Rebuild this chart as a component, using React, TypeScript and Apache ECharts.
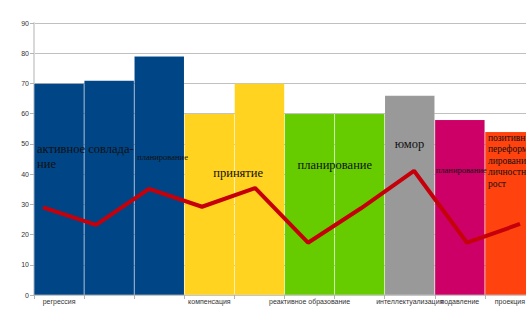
import React, { useEffect, useRef } from "react";
import * as echarts from "echarts";

const categories = [
  "регрессия", "", "", "компенсация", "", "реактивное образование", "",
  "интеллектуализация", "подавление", "проекция",
];
const barValues = [70, 71, 79, 60, 70, 60, 60, 66, 58, 54];
const barColors = [
  "#004586", "#004586", "#004586", "#ffd320", "#ffd320",
  "#66cc00", "#66cc00", "#999999", "#cc0066", "#ff420e",
];
const lineValues = [29, 23.2, 35.1, 29.2, 35.4, 17.3, 28.7, 41.1, 17.3, 23.5];
const barTexts = [
  "активное совлада-\nние", "", "планирование", "принятие", "",
  "планирование", "", "юмор", "планирование",
  "позитивное\nпереформу-\nлирование\nличностный\nрост",
];
const yTicks = [0, 10, 20, 30, 40, 50, 60, 70, 80, 90];

const textStyles: any[] = [
  { position: [3, 58], fontSize: 12.5, lineHeight: 15 },
  null,
  { position: [3, 96], fontSize: 8.5, lineHeight: 10 },
  { position: [29, 52], fontSize: 12.5, lineHeight: 15 },
  null,
  { position: [13, 44], fontSize: 12.5, lineHeight: 15 },
  null,
  { position: [10, 41], fontSize: 12.5, lineHeight: 15 },
  { position: [1, 45], fontSize: 8.5, lineHeight: 10 },
  { position: [3, 0], fontSize: 9.5, lineHeight: 11.5 },
];

export default function App() {
  const ref = useRef<HTMLDivElement>(null);
  useEffect(() => {
    if (!ref.current) return;
    const chart = echarts.init(ref.current, undefined, { renderer: "svg" });
    const serif = "Liberation Serif";
    chart.setOption({
      animation: false,
      grid: [
        { left: 34, right: 0, top: 23, bottom: 18 },
        { left: 43, right: 15, top: 23, bottom: 18 },
      ],
      xAxis: [
        {
          type: "category",
          gridIndex: 0,
          data: categories,
          axisLine: { lineStyle: { color: "#c8c8c8", width: 1.5 } },
          axisTick: { show: true, length: 4, lineStyle: { color: "#b3b3b3" } },
          axisLabel: {
            interval: 0,
            fontSize: 7,
            color: "#333",
            margin: 3,
            fontFamily: "Liberation Sans",
          },
        },
        {
          type: "category",
          gridIndex: 1,
          data: categories.map((_, i) => String(i)),
          boundaryGap: false,
          show: false,
        },
      ],
      yAxis: [
        {
          type: "value",
          gridIndex: 0,
          min: 0,
          max: 90,
          interval: 10,
          axisLine: { show: true, lineStyle: { color: "#d9d9d9", width: 2 } },
          axisTick: { show: true, length: 4, lineStyle: { color: "#b3b3b3" } },
          splitLine: { lineStyle: { color: "#c0c0c0", width: 1.2 } },
          axisLabel: {
            fontSize: 7,
            color: "#333",
            margin: 5,
            fontFamily: "Liberation Sans",
            formatter: (v: number) => (yTicks.includes(v) ? String(v) : ""),
          },
        },
        {
          type: "value",
          gridIndex: 1,
          min: 0,
          max: 90,
          show: false,
        },
      ],
      series: [
        {
          type: "bar",
          xAxisIndex: 0,
          yAxisIndex: 0,
          barCategoryGap: "0%",
          data: barValues.map((v, i) => {
            const t = textStyles[i];
            return {
              value: v,
              itemStyle: {
                color: barColors[i],
                borderColor: "rgba(255,255,255,0.12)",
                borderWidth: 0.6,
              },
              label: t
                ? {
                    show: true,
                    formatter: barTexts[i],
                    position: t.position,
                    fontSize: t.fontSize,
                    lineHeight: t.lineHeight,
                    fontFamily: serif,
                    color: "#111",
                    align: "left",
                    verticalAlign: "top",
                  }
                : { show: false },
            };
          }),
          z: 1,
        },
        {
          type: "line",
          xAxisIndex: 1,
          yAxisIndex: 1,
          data: lineValues,
          symbol: "none",
          lineStyle: { color: "#c5000b", width: 4 },
          z: 5,
        },
      ],
    });
    return () => chart.dispose();
  }, []);
  return (
    <div
      style={{
        position: "absolute",
        left: 0,
        top: 0,
        width: 526,
        height: 313,
        overflow: "hidden",
      }}
    >
      <div ref={ref} style={{ width: 535, height: 313 }} />
    </div>
  );
}
